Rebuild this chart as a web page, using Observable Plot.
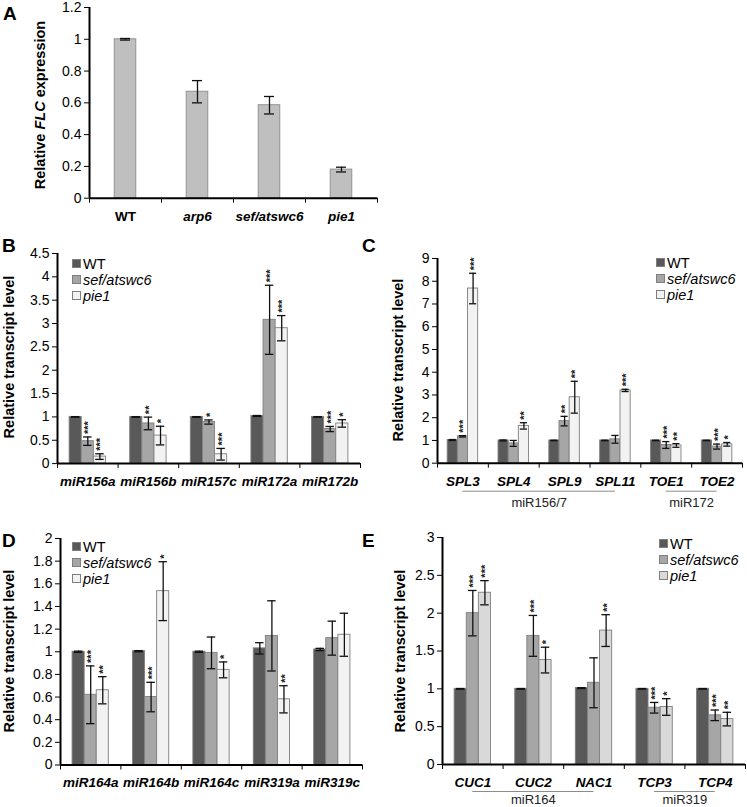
<!DOCTYPE html>
<html><head><meta charset="utf-8">
<script src="https://cdn.jsdelivr.net/npm/d3@7"></script>
<script src="https://cdn.jsdelivr.net/npm/@observablehq/plot@0.6"></script>
<style>
body{margin:0;background:#fff;}
#fig{position:relative;width:747px;height:807px;overflow:hidden;font-family:Arial,"Liberation Sans",sans-serif;color:#000;}
.letter{position:absolute;font-weight:bold;font-size:19px;line-height:19px;}
.ylab{position:absolute;font-weight:bold;font-size:14.5px;white-space:nowrap;transform:translate(-50%,-50%) rotate(-90deg);}
.legend{position:absolute;font-size:14.5px;line-height:16px;white-space:nowrap;}
.legend .sw{display:inline-block;width:7px;height:7px;border:1px solid #7f7f7f;margin-right:2px;vertical-align:1px}
</style></head>
<body>
<div id="fig"></div>
<script>
// ---------- DATA ----------
const genotypes = ["WT", "sef/atswc6", "pie1"];

// Panel A
const aLabels = ["WT", "arp6", "sef/atswc6", "pie1"];
const aValues = [1.0, 0.67, 0.585, 0.18];
const aErrors = [0.005, 0.07, 0.055, 0.015];
const aTicks = [0, 0.2, 0.4, 0.6, 0.8, 1, 1.2];

// Panel B
const bGenes = ["miR156a", "miR156b", "miR157c", "miR172a", "miR172b"];
const bWT = [1.0, 1.0, 1.0, 1.02, 1.0];
const bWTErr = [0.006, 0.006, 0.006, 0.01, 0.006];
const bSef = [0.48, 0.86, 0.89, 3.08, 0.74];
const bSefErr = [0.09, 0.135, 0.045, 0.74, 0.055];
const bSefSig = ["***", "**", "*", "***", "***"];
const bPie = [0.15, 0.6, 0.2, 2.9, 0.86];
const bPieErr = [0.06, 0.2, 0.125, 0.27, 0.08];
const bPieSig = ["***", "*", "***", "***", "*"];
const bTicks = [0, 0.5, 1, 1.5, 2, 2.5, 3, 3.5, 4, 4.5];

// Panel C
const cGenes = ["SPL3", "SPL4", "SPL9", "SPL11", "TOE1", "TOE2"];
const cWT = [1.02, 1.0, 1.0, 1.0, 1.0, 1.0];
const cWTErr = [0.02, 0.02, 0.01, 0.01, 0.01, 0.01];
const cSef = [1.18, 0.87, 1.85, 1.05, 0.8, 0.73];
const cSefErr = [0.03, 0.13, 0.21, 0.17, 0.15, 0.11];
const cSefSig = ["***", "", "**", "", "***", "***"];
const cPie = [7.68, 1.64, 2.9, 3.2, 0.78, 0.83];
const cPieErr = [0.67, 0.14, 0.7, 0.05, 0.08, 0.08];
const cPieSig = ["***", "**", "**", "***", "**", "*"];
const cTicks = [0, 1, 2, 3, 4, 5, 6, 7, 8, 9];
const cGroupLabels = ["miR156/7", "miR172"];
const cGroupFrom = ["SPL3", "TOE1"];
const cGroupTo = ["SPL11", "TOE2"];

// Panel D
const dGenes = ["miR164a", "miR164b", "miR164c", "miR319a", "miR319c"];
const dWT = [1.0, 1.005, 1.0, 1.03, 1.02];
const dWTErr = [0.005, 0.005, 0.005, 0.05, 0.01];
const dSef = [0.62, 0.6, 0.99, 1.14, 1.12];
const dSefErr = [0.255, 0.13, 0.14, 0.31, 0.15];
const dSefSig = ["***", "***", "", "", ""];
const dPie = [0.66, 1.535, 0.84, 0.58, 1.15];
const dPieErr = [0.12, 0.26, 0.07, 0.12, 0.19];
const dPieSig = ["**", "*", "*", "**", ""];
const dTicks = [0, 0.2, 0.4, 0.6, 0.8, 1, 1.2, 1.4, 1.6, 1.8, 2];

// Panel E
const eGenes = ["CUC1", "CUC2", "NAC1", "TCP3", "TCP4"];
const eWT = [1.0, 1.0, 1.01, 1.0, 1.0];
const eWTErr = [0.004, 0.004, 0.006, 0.004, 0.004];
const eSef = [2.0, 1.7, 1.08, 0.75, 0.65];
const eSefErr = [0.3, 0.27, 0.33, 0.07, 0.07];
const eSefSig = ["***", "***", "", "***", "***"];
const ePie = [2.27, 1.38, 1.77, 0.76, 0.6];
const ePieErr = [0.16, 0.17, 0.21, 0.11, 0.09];
const ePieSig = ["***", "*", "**", "*", "**"];
const eTicks = [0, 0.5, 1, 1.5, 2, 2.5, 3];
const eGroupLabels = ["miR164", "miR319"];
const eGroupFrom = ["CUC1", "TCP3"];
const eGroupTo = ["NAC1", "TCP4"];

// ---------- DRAWING ----------
const fig = document.getElementById("fig");
const FONT = "Arial, 'Liberation Sans', sans-serif";

function place(el, left, top) {
  el.style.position = "absolute";
  el.style.left = left + "px";
  el.style.top = top + "px";
  fig.appendChild(el);
  return el;
}

function html(cls, text, left, top) {
  const d = document.createElement("div");
  d.className = cls;
  d.innerHTML = text;
  d.style.left = left + "px";
  d.style.top = top + "px";
  fig.appendChild(d);
  return d;
}

function legend(left, top, colors) {
  const d = document.createElement("div");
  d.className = "legend";
  d.innerHTML = genotypes.map((g, i) =>
    `<div><span class="sw" style="background:${colors[i]}"></span>${i === 0 ? g : "<i>" + g + "</i>"}</div>`
  ).join("");
  d.style.left = left + "px";
  d.style.top = top + "px";
  fig.appendChild(d);
}

function panel({genes, series, colors, ymax, ticks, geo, band, groups, labelItalic, barFill, barStroke}) {
  const ml = 50, mr = 8, mt = 14, mb = 52;
  const width = ml + (geo.right - geo.left) + mr;
  const height = mt + (geo.y0 - geo.ytop) + mb;
  const bw = band.bandwidth();
  const rows = [];
  genes.forEach((g, i) => series.forEach(s => rows.push({
    gene: g, i, genotype: s.name, value: s.values[i], err: s.errs[i], sig: s.sig ? s.sig[i] : ""
  })));
  const x1 = d => d.i + band(d.genotype);
  const xc = d => x1(d) + bw / 2;
  const cap = Math.min(0.07, bw * 0.38);
  const caps = rows.flatMap(d => [{d, y: d.value + d.err}, {d, y: d.value - d.err}]);
  const idx = g => genes.indexOf(g);
  const marks = [
    Plot.rect(rows, {
      x1, x2: d => x1(d) + bw, y1: () => 0, y2: "value",
      fill: barFill ? () => barFill : "genotype",
      stroke: barStroke || "#7f7f7f", strokeWidth: 0.9
    }),
    Plot.ruleX(rows, {x: xc, y1: d => d.value - d.err, y2: d => d.value + d.err, stroke: "#111", strokeWidth: 1.3}),
    Plot.ruleY(caps, {y: "y", x1: c => xc(c.d) - cap, x2: c => xc(c.d) + cap, stroke: "#111", strokeWidth: 1.3}),
    Plot.text(rows.filter(d => d.sig), {
      x: xc, y: d => d.value + d.err, text: "sig", rotate: -90, textAnchor: "start",
      dy: -3, dx: 1, fontSize: 11, fill: "#222", fontWeight: "bold"
    }),
    Plot.ruleY([0], {stroke: "#000", strokeWidth: 2}),
    Plot.ruleX([0], {stroke: "#000", strokeWidth: 2}),
    Plot.text(genes.filter(g => !labelItalic(g)), {
      x: g => idx(g) + 0.5, y: () => 0, text: d => d, dy: 18,
      fontWeight: "bold", fontSize: 13.5, fill: "#000"
    }),
    Plot.text(genes.filter(g => labelItalic(g)), {
      x: g => idx(g) + 0.5, y: () => 0, text: d => d, dy: 18,
      fontWeight: "bold", fontStyle: "italic", fontSize: 13.5, fill: "#000"
    })
  ];
  if (groups) {
    const gs = groups.labels.map((l, k) => ({label: l, a: idx(groups.from[k]) + 0.5, b: idx(groups.to[k]) + 0.5}));
    marks.push(Plot.ruleY(gs, {y: () => 0, x1: "a", x2: "b", dy: groups.lineDy, stroke: "#8c8c8c", strokeWidth: 1}));
    marks.push(Plot.text(gs, {x: g => (g.a + g.b) / 2, y: () => 0, text: "label", dy: groups.textDy, fontSize: 13, fill: "#222"}));
  }
  const svg = Plot.plot({
    width, height,
    marginLeft: ml, marginRight: mr, marginTop: mt, marginBottom: mb,
    style: {fontSize: "14px", fontFamily: FONT, overflow: "visible", background: "transparent", color: "#000"},
    x: {type: "linear", domain: [0, genes.length], ticks: d3.range(genes.length + 1), tickFormat: () => "", tickSize: 5, label: null},
    y: {type: "linear", domain: [0, ymax], ticks, tickFormat: d => String(d), tickSize: 5, tickPadding: 3, label: null},
    color: {domain: genotypes, range: colors},
    marks
  });
  place(svg, geo.left - ml, geo.ytop - mt);
}

const colsBCD = ["#595959", "#a6a6a6", "#f2f2f2"];
const colsE = ["#595959", "#a6a6a6", "#d9d9d9"];
const band3 = d3.scaleBand().domain(genotypes).range([0.2, 0.8]);

// Panel A
panel({
  genes: aLabels,
  series: [{name: "WT", values: aValues, errs: aErrors}],
  colors: colsBCD, ymax: 1.2, ticks: aTicks,
  geo: {left: 89, right: 377, y0: 198, ytop: 7.3},
  band: d3.scaleBand().domain(["WT"]).range([0.35, 0.65]),
  labelItalic: g => g !== "WT",
  barFill: "#bfbfbf", barStroke: "#8c8c8c"
});

// Panel B
panel({
  genes: bGenes,
  series: [
    {name: "WT", values: bWT, errs: bWTErr},
    {name: "sef/atswc6", values: bSef, errs: bSefErr, sig: bSefSig},
    {name: "pie1", values: bPie, errs: bPieErr, sig: bPieSig}
  ],
  colors: colsBCD, ymax: 4.5, ticks: bTicks,
  geo: {left: 57, right: 360, y0: 462.7, ytop: 252.6},
  band: band3, labelItalic: () => true
});

// Panel C
panel({
  genes: cGenes,
  series: [
    {name: "WT", values: cWT, errs: cWTErr},
    {name: "sef/atswc6", values: cSef, errs: cSefErr, sig: cSefSig},
    {name: "pie1", values: cPie, errs: cPieErr, sig: cPieSig}
  ],
  colors: colsBCD, ymax: 9, ticks: cTicks,
  geo: {left: 437, right: 742, y0: 463, ytop: 258.3},
  band: band3, labelItalic: () => true,
  groups: {labels: cGroupLabels, from: cGroupFrom, to: cGroupTo, lineDy: 28, textDy: 40}
});

// Panel D
panel({
  genes: dGenes,
  series: [
    {name: "WT", values: dWT, errs: dWTErr},
    {name: "sef/atswc6", values: dSef, errs: dSefErr, sig: dSefSig},
    {name: "pie1", values: dPie, errs: dPieErr, sig: dPieSig}
  ],
  colors: colsBCD, ymax: 2, ticks: dTicks,
  geo: {left: 60, right: 362, y0: 764.5, ytop: 538},
  band: band3, labelItalic: () => true
});

// Panel E
panel({
  genes: eGenes,
  series: [
    {name: "WT", values: eWT, errs: eWTErr},
    {name: "sef/atswc6", values: eSef, errs: eSefErr, sig: eSefSig},
    {name: "pie1", values: ePie, errs: ePieErr, sig: ePieSig}
  ],
  colors: colsE, ymax: 3, ticks: eTicks,
  geo: {left: 442, right: 745, y0: 764, ytop: 537},
  band: band3, labelItalic: () => true,
  groups: {labels: eGroupLabels, from: eGroupFrom, to: eGroupTo, lineDy: 27, textDy: 35}
});

// Panel letters
html("letter", "A", 3, 4);
html("letter", "B", 2, 236);
html("letter", "C", 362, 236);
html("letter", "D", 2, 531);
html("letter", "E", 362, 531);

// Y-axis titles
html("ylab", "Relative <i>FLC</i> expression", 40, 105);
html("ylab", "Relative transcript level", 9, 357);
html("ylab", "Relative transcript level", 398, 360);
html("ylab", "Relative transcript level", 9, 651);
html("ylab", "Relative transcript level", 400, 651);

// Legends
legend(72, 256, colsBCD);
legend(656, 255, colsBCD);
legend(72, 539, colsBCD);
legend(659, 536, colsE);
</script>
</body></html>
